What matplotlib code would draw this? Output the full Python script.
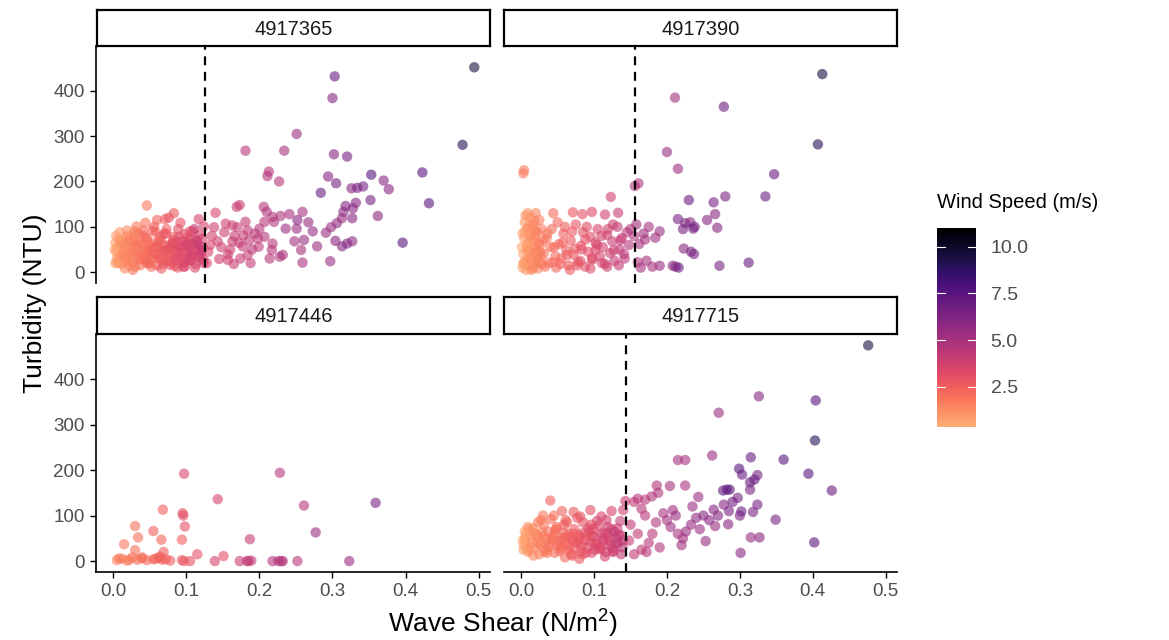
import matplotlib.pyplot as plt
import matplotlib.colors as mcolors
import numpy as np

plt.rcParams['font.family'] = ['Liberation Sans', 'DejaVu Sans']
plt.rcParams['mathtext.fontset'] = 'custom'
plt.rcParams['mathtext.rm'] = 'Liberation Sans'
plt.rcParams['mathtext.it'] = 'Liberation Sans'

# ---- data -------------------------------------------------------------------
stations = ["4917365", "4917390", "4917446", "4917715"]
thresholds = [0.126, 0.156, None, 0.144]

# station 4917365
shear_365 = [
    0.005, 0.006, 0.008, 0.010, 0.012, 0.015, 0.018, 0.020, 0.022, 0.025, 0.028, 0.030, 0.033, 0.035, 0.038, 0.040,
    0.043, 0.045, 0.048, 0.050, 0.053, 0.055, 0.058, 0.060, 0.063, 0.065, 0.068, 0.070, 0.073, 0.075, 0.078, 0.080,
    0.083, 0.085, 0.088, 0.090, 0.093, 0.095, 0.098, 0.100, 0.103, 0.105, 0.108, 0.110, 0.113, 0.115, 0.118, 0.120,
    0.123,
    0.004, 0.007, 0.009, 0.011, 0.014, 0.016, 0.019, 0.021, 0.024, 0.026, 0.029, 0.032, 0.034, 0.037, 0.039, 0.042,
    0.044, 0.047, 0.049, 0.052, 0.054, 0.057, 0.059, 0.062, 0.064, 0.067, 0.069, 0.072, 0.074, 0.077, 0.079, 0.082,
    0.084, 0.087, 0.089, 0.092, 0.094, 0.097, 0.099, 0.102, 0.104, 0.107, 0.109, 0.112, 0.114, 0.117, 0.119, 0.122,
    0.124,
    0.003, 0.009, 0.013, 0.017, 0.023, 0.027, 0.031, 0.036, 0.041, 0.046, 0.051, 0.056, 0.061, 0.066, 0.071, 0.076,
    0.081, 0.086, 0.091, 0.096, 0.101, 0.106, 0.111, 0.116, 0.121,
    0.006, 0.010, 0.014, 0.018, 0.022, 0.026, 0.030, 0.034, 0.038, 0.042, 0.046, 0.050, 0.054, 0.058, 0.062, 0.066,
    0.070, 0.074, 0.078, 0.082, 0.086, 0.090, 0.094, 0.098, 0.102, 0.106, 0.110, 0.114, 0.118, 0.122,
    0.046, 0.083, 0.117, 0.060, 0.071, 0.044, 0.092, 0.032, 0.019, 0.105, 0.124, 0.002, 0.003, 0.004,
    0.494, 0.303, 0.300, 0.251, 0.181, 0.234, 0.302, 0.320, 0.478, 0.213, 0.211, 0.227, 0.294, 0.305, 0.353, 0.370,
    0.377, 0.423, 0.432, 0.396, 0.284, 0.326, 0.334, 0.342, 0.352, 0.362, 0.332, 0.328, 0.315, 0.318, 0.327, 0.313,
    0.306, 0.298, 0.291, 0.304, 0.313, 0.320, 0.327, 0.297, 0.259, 0.279, 0.273, 0.267, 0.259, 0.252, 0.251, 0.236,
    0.261, 0.257, 0.248, 0.241, 0.229, 0.218, 0.206, 0.210, 0.207, 0.220, 0.200, 0.198, 0.207, 0.218, 0.217, 0.228,
    0.232, 0.214, 0.199, 0.184, 0.173, 0.169, 0.181, 0.184, 0.170, 0.163, 0.154, 0.140, 0.138, 0.143, 0.157, 0.163,
    0.177, 0.178, 0.174, 0.157, 0.145,
    0.130, 0.135, 0.148, 0.152, 0.160, 0.166, 0.172, 0.186, 0.190, 0.194, 0.128, 0.133, 0.165, 0.188,
]
turb_365 = [
    30, 55, 72, 40, 18, 62, 35, 80, 25, 48, 68, 12, 45, 85, 28, 58, 38, 75, 20, 50, 65, 32, 88, 15, 42, 70, 27, 60,
    95, 36, 52, 22, 78, 44, 10, 66, 30, 57, 84, 24, 47, 73, 35, 62, 18, 50, 82, 40, 28,
    45, 20, 88, 60, 35, 8, 75, 42, 55, 22, 90, 38, 65, 15, 50, 80, 28, 45, 62, 12, 92, 40, 55, 30, 78, 48, 18, 85,
    25, 58, 40, 70, 14, 52, 95, 33, 68, 20, 45, 76, 26, 58, 90, 10, 68, 32, 50, 74, 20,
    65, 30, 50, 25, 70, 5, 60, 33, 92, 20, 42, 100, 56, 8, 47, 120, 64, 26, 55, 12, 60, 38, 95, 62, 48,
    22, 68, 38, 58, 14, 44, 82, 28, 62, 36, 74, 20, 55, 40, 66, 30, 85, 48, 16, 60, 34, 78, 42, 12, 64, 26, 46, 70,
    36, 56,
    147, 130, 117, 115, 117, 109, 109, 101, 92, 90, 101, 50, 20, 80,
    452, 432, 384, 305, 268, 268, 260, 255, 281, 222, 212, 200, 211, 196, 215, 202, 183, 220, 152, 65, 175, 185, 186,
    189, 159, 124, 153, 141, 133, 146, 119, 119, 108, 99, 87, 69, 57, 63, 68, 24, 21, 57, 90, 110, 133, 115, 96, 96,
    71, 49, 68, 128, 124, 122, 144, 133, 111, 111, 96, 74, 78, 63, 49, 34, 38, 30, 56, 38, 148, 144, 111, 92, 99,
    103, 107, 131, 99, 68, 39, 68, 57, 81, 30, 27, 29,
    45, 80, 55, 88, 50, 80, 65, 70, 50, 85, 20, 60, 18, 20,
]
wind_365 = [
    1.0, 1.1, 1.2, 1.0, 1.3, 1.4, 1.5, 1.3, 1.6, 1.5, 1.7, 1.8, 1.6, 1.9, 1.8, 2.0, 1.9, 2.1, 2.0, 2.2, 2.1, 2.3, 2.2,
    2.4, 2.3, 2.5, 2.4, 2.6, 2.5, 2.7, 2.6, 2.8, 2.7, 2.9, 2.8, 3.0, 2.9, 3.1, 3.0, 3.2, 3.1, 3.3, 3.2, 3.4, 3.3, 3.5,
    3.4, 3.6, 3.5,
    0.9, 1.1, 1.0, 1.2, 1.4, 1.3, 1.5, 1.6, 1.5, 1.7, 1.8, 1.7, 1.9, 2.0, 1.9, 2.1, 2.2, 2.1, 2.3, 2.2, 2.4, 2.3, 2.5,
    2.4, 2.6, 2.5, 2.7, 2.8, 2.7, 2.9, 2.8, 3.0, 3.1, 3.0, 3.2, 3.1, 3.3, 3.2, 3.4, 3.3, 3.5, 3.4, 3.6, 3.5, 3.7, 3.6,
    3.8, 3.7, 3.9,
    0.8, 1.2, 1.3, 1.5, 1.7, 1.8, 1.9, 2.0, 2.2, 2.3, 2.4, 2.6, 2.7, 2.8, 3.0, 3.1, 3.2, 3.3, 3.5, 3.6, 3.7, 3.8, 4.0,
    4.1, 4.2,
    1.0, 1.1, 1.3, 1.4, 1.5, 1.6, 1.7, 1.8, 1.9, 2.0, 2.1, 2.2, 2.3, 2.4, 2.5, 2.6, 2.7, 2.8, 2.9, 3.0, 3.1, 3.2, 3.3,
    3.4, 3.5, 3.5, 3.6, 3.7, 3.8, 3.9,
    1.8, 2.8, 3.5, 2.4, 2.6, 1.9, 3.0, 1.7, 1.3, 3.2, 3.6, 0.7, 0.8, 0.9,
    9.5, 7.0, 6.0, 5.5, 4.5, 5.0, 6.0, 6.5, 9.0, 4.5, 4.8, 4.5, 6.0, 6.5, 7.5, 6.0, 6.0, 7.5, 7.5, 7.5, 7.0, 6.0, 6.5,
    6.5, 6.5, 6.0, 6.0, 6.0, 5.8, 6.2, 6.0, 5.5, 5.8, 5.5, 5.5, 6.0, 6.0, 6.2, 5.8, 5.5, 5.0, 5.5, 5.5, 5.5, 5.0, 6.0,
    5.5, 5.5, 5.5, 5.0, 5.2, 5.0, 4.8, 4.5, 4.5, 4.8, 4.5, 4.8, 4.5, 4.2, 4.5, 4.5, 4.5, 4.8, 5.0, 4.5, 4.2, 4.0, 4.0,
    4.0, 4.2, 4.3, 4.0, 4.0, 3.8, 3.5, 3.8, 3.8, 3.9, 4.0, 4.2, 4.0, 4.0, 3.8, 3.8,
    3.5, 3.6, 3.8, 3.9, 4.0, 4.0, 4.1, 4.3, 4.4, 4.5, 3.4, 3.5, 4.0, 4.2,
]

# station 4917390
shear_390 = [
    0.002, 0.003, 0.004, 0.005, 0.006, 0.007, 0.008, 0.009, 0.010, 0.011, 0.012, 0.013, 0.014, 0.015, 0.016, 0.017,
    0.018, 0.019, 0.020, 0.022, 0.024, 0.026,
    0.001, 0.003, 0.005, 0.007, 0.009, 0.011, 0.013, 0.015, 0.017, 0.019, 0.021, 0.023, 0.025, 0.027, 0.029,
    0.002, 0.004, 0.006, 0.008, 0.010, 0.012, 0.014, 0.016, 0.018, 0.020, 0.022, 0.024, 0.026, 0.028, 0.030,
    0.031, 0.035, 0.038, 0.042, 0.045, 0.048, 0.052, 0.055, 0.058, 0.062, 0.065, 0.068, 0.072, 0.075, 0.078, 0.082,
    0.085, 0.088, 0.092, 0.095, 0.098, 0.102, 0.105, 0.108, 0.112, 0.115, 0.118, 0.122, 0.125, 0.128, 0.132, 0.135,
    0.138, 0.142, 0.145, 0.148,
    0.033, 0.040, 0.047, 0.054, 0.060, 0.067, 0.074, 0.081, 0.088, 0.095, 0.102, 0.110, 0.118, 0.126, 0.134, 0.141,
    0.036, 0.044, 0.050, 0.057, 0.063, 0.070, 0.077, 0.083, 0.090, 0.097, 0.104, 0.111, 0.119, 0.127, 0.136,
    0.020, 0.044, 0.071, 0.084, 0.097, 0.115, 0.133,
    0.003, 0.004, 0.123, 0.161, 0.156,
    0.413, 0.407, 0.211, 0.278, 0.200, 0.215, 0.347, 0.335, 0.280, 0.264, 0.230, 0.266, 0.255, 0.269, 0.215, 0.225,
    0.232, 0.238, 0.222, 0.236, 0.223, 0.233, 0.237, 0.312, 0.272, 0.212, 0.216, 0.208, 0.190, 0.180, 0.172, 0.164,
    0.160, 0.190, 0.184, 0.170, 0.162, 0.150, 0.158, 0.175, 0.168, 0.155,
]
turb_390 = [
    10, 40, 75, 110, 25, 60, 95, 130, 15, 50, 85, 120, 5, 35, 70, 105, 20, 55, 90, 30, 65, 45,
    55, 20, 90, 5, 45, 70, 28, 100, 12, 80, 48, 8, 115, 36, 18,
    85, 18, 125, 52, 100, 30, 78, 8, 112, 42, 88, 22, 60, 95, 70,
    40, 75, 20, 95, 55, 10, 62, 30, 85, 48, 15, 70, 38, 105, 22, 58, 88, 12, 45, 78, 28, 65, 95, 35, 55, 18, 82, 42,
    68, 25, 100, 50, 75, 30, 88, 60,
    12, 55, 35, 18, 100, 5, 52, 25, 72, 8, 48, 80, 12, 105, 15, 40,
    85, 22, 110, 65, 38, 90, 15, 50, 100, 30, 60, 20, 95, 48, 70,
    130, 130, 132, 128, 133, 127, 131,
    218, 225, 166, 196, 190,
    437, 282, 385, 365, 265, 228, 216, 167, 167, 154, 159, 128, 115, 98, 117, 108, 110, 100, 95, 96, 52, 45, 40, 21,
    14, 12, 10, 14, 14, 12, 25, 10, 22, 90, 76, 72, 62, 95, 105, 100, 85, 80,
]
wind_390 = [
    0.6, 0.8, 0.7, 0.9, 1.0, 0.8, 1.0, 1.1, 1.2, 1.0, 1.1, 1.3, 1.2, 1.1, 1.3, 1.4, 1.3, 1.5, 1.4, 1.5, 1.6, 1.7,
    0.5, 0.7, 0.8, 0.9, 1.0, 1.1, 1.2, 1.2, 1.3, 1.4, 1.5, 1.5, 1.6, 1.7, 1.8,
    0.8, 0.9, 1.0, 1.0, 1.1, 1.2, 1.2, 1.3, 1.4, 1.4, 1.5, 1.6, 1.6, 1.7, 1.8,
    1.8, 1.9, 2.0, 2.1, 2.2, 2.3, 2.3, 2.4, 2.5, 2.6, 2.6, 2.7, 2.8, 2.9, 2.9, 3.0, 3.1, 3.2, 3.2, 3.3, 3.4, 3.5, 3.5,
    3.6, 3.7, 3.8, 3.8, 3.9, 4.0, 4.1, 4.1, 4.2, 4.3, 4.4, 4.4, 4.5,
    1.9, 2.0, 2.2, 2.4, 2.5, 2.6, 2.8, 3.0, 3.1, 3.3, 3.4, 3.6, 3.8, 4.0, 4.1, 4.3,
    1.9, 2.1, 2.3, 2.4, 2.6, 2.7, 2.9, 3.0, 3.2, 3.3, 3.5, 3.6, 3.8, 3.9, 4.1,
    1.5, 2.2, 2.8, 3.0, 3.3, 3.7, 4.0,
    1.8, 1.6, 3.8, 4.8, 4.8,
    9.5, 9.0, 5.0, 7.0, 5.5, 5.5, 7.0, 7.0, 6.5, 6.5, 7.0, 6.0, 6.0, 6.0, 6.5, 6.5, 6.0, 6.5, 6.5, 6.5, 6.0, 6.5, 6.5,
    7.0, 6.5, 6.5, 6.8, 6.0, 5.5, 5.0, 5.0, 5.0, 4.8, 5.5, 5.3, 5.0, 5.0, 4.8, 5.2, 5.0, 5.2, 4.8,
]

# station 4917446
shear_446 = [
    0.097, 0.228, 0.143, 0.359, 0.261, 0.068, 0.095, 0.096, 0.030, 0.098, 0.055, 0.034, 0.066, 0.094, 0.187, 0.277,
    0.015, 0.030, 0.115, 0.151, 0.069,
    0.005, 0.012, 0.019, 0.026, 0.033, 0.039, 0.046, 0.055, 0.062, 0.067, 0.078, 0.094, 0.105, 0.139, 0.173, 0.185,
    0.189, 0.218, 0.226, 0.232, 0.252, 0.323, 0.008, 0.022, 0.040, 0.058, 0.064, 0.072, 0.097, 0.183, 0.230,
]
turb_446 = [
    192, 194, 136, 128, 122, 113, 105, 100, 77, 76, 66, 52, 47, 47, 48, 63, 37, 24, 15, 11, 20,
    2, 5, 1, 8, 3, 6, 2, 4, 7, 3, 1, 2, 0, 0, 0, 0, 1, 0, 0, 0, 0, 0, 6, 3, 8, 5, 10, 4, 0, 0, 0,
]
wind_446 = [
    3.5, 4.5, 3.5, 6.5, 4.5, 2.5, 3.0, 3.2, 2.0, 3.0, 2.5, 2.0, 2.3, 2.5, 4.0, 5.5, 1.8, 2.0, 3.0, 3.0, 2.5,
    1.5, 1.8, 1.6, 1.9, 2.0, 2.0, 2.2, 2.3, 2.4, 2.4, 2.6, 2.8, 3.0, 3.5, 4.0, 4.5, 4.2, 4.5, 4.8, 4.5, 4.5, 5.5,
    1.7, 1.8, 2.0, 2.3, 2.5, 2.5, 2.8, 4.2, 4.6,
]

# station 4917715
shear_715 = [
    0.004, 0.007, 0.010, 0.013, 0.016, 0.019, 0.022, 0.025, 0.028, 0.031, 0.034, 0.037, 0.040, 0.043, 0.046, 0.049,
    0.052, 0.055, 0.058, 0.061, 0.064, 0.067, 0.070, 0.073, 0.076, 0.079, 0.082, 0.085, 0.088, 0.091, 0.094, 0.097,
    0.100, 0.103, 0.106, 0.109, 0.112, 0.115, 0.118, 0.121, 0.124, 0.127, 0.130, 0.133, 0.136, 0.139,
    0.005, 0.008, 0.011, 0.014, 0.017, 0.020, 0.023, 0.026, 0.029, 0.032, 0.035, 0.038, 0.041, 0.044, 0.047, 0.050,
    0.053, 0.056, 0.059, 0.062, 0.065, 0.068, 0.071, 0.074, 0.077, 0.080, 0.083, 0.086, 0.089, 0.092, 0.095, 0.098,
    0.101, 0.104, 0.107, 0.110, 0.113, 0.116, 0.119, 0.122, 0.125, 0.128, 0.131, 0.134, 0.137, 0.140,
    0.006, 0.012, 0.018, 0.024, 0.030, 0.036, 0.042, 0.048, 0.054, 0.060, 0.066, 0.072, 0.078, 0.084, 0.090, 0.096,
    0.102, 0.108, 0.114, 0.120, 0.126, 0.132, 0.138, 0.009, 0.027, 0.045, 0.063, 0.081, 0.099, 0.117,
    0.040, 0.056, 0.072, 0.095, 0.124, 0.140, 0.002, 0.003, 0.005, 0.030, 0.080, 0.110, 0.060,
    0.476, 0.326, 0.404, 0.271, 0.403, 0.215, 0.225, 0.262, 0.315, 0.360, 0.394, 0.426, 0.299, 0.303, 0.324, 0.314,
    0.320, 0.282, 0.286, 0.277, 0.314, 0.297, 0.243, 0.225, 0.204, 0.186, 0.188, 0.179, 0.170, 0.160, 0.155, 0.143,
    0.324, 0.278, 0.264, 0.302, 0.300, 0.318, 0.349, 0.402, 0.315, 0.327, 0.253, 0.301, 0.284, 0.266, 0.233, 0.226,
    0.222, 0.220, 0.200, 0.205, 0.212, 0.215, 0.240, 0.250, 0.245, 0.195, 0.208, 0.180, 0.175, 0.185, 0.170, 0.165,
    0.160, 0.150, 0.148, 0.155, 0.172, 0.190, 0.165, 0.235, 0.258, 0.270, 0.285, 0.290,
]
turb_715 = [
    35, 60, 20, 48, 72, 30, 55, 15, 42, 80, 25, 65, 38, 50, 18, 75, 44, 28, 62, 90, 33, 52, 12, 70, 40, 58, 22, 85,
    46, 30, 66, 18, 54, 38, 78, 26, 48, 10, 60, 35, 70, 22, 50, 40, 88, 30,
    50, 25, 70, 40, 12, 58, 85, 36, 64, 20, 48, 30, 92, 55, 68, 35, 22, 50, 80, 40, 60, 15, 46, 28, 95, 52, 35, 62,
    18, 72, 42, 55, 25, 88, 32, 60, 45, 20, 75, 52, 28, 65, 38, 58, 15, 45,
    45, 28, 62, 40, 55, 18, 48, 70, 32, 52, 25, 60, 42, 15, 56, 80, 38, 28, 62, 44, 20, 72, 56, 75, 90, 100, 85, 98,
    70, 90,
    133, 110, 108, 112, 110, 112, 45, 25, 65, 100, 5, 98, 8,
    474, 362, 353, 326, 265, 222, 222, 232, 228, 223, 192, 155, 203, 190, 189, 173, 179, 157, 157, 155, 157, 139, 141,
    166, 165, 166, 150, 142, 135, 137, 130, 132, 124, 124, 113, 109, 100, 108, 91, 41, 52, 52, 44, 18, 81, 77, 80, 65,
    50, 35, 90, 75, 100, 60, 95, 100, 70, 105, 112, 60, 40, 85, 100, 25, 60, 80, 45, 15, 20, 30, 115, 120, 90, 100,
    110, 130,
]
wind_715 = [
    1.0, 1.1, 1.2, 1.3, 1.4, 1.5, 1.5, 1.6, 1.7, 1.8, 1.8, 1.9, 2.0, 2.0, 2.1, 2.2, 2.2, 2.3, 2.4, 2.4, 2.5, 2.6, 2.6,
    2.7, 2.8, 2.8, 2.9, 3.0, 3.0, 3.1, 3.2, 3.2, 3.3, 3.4, 3.4, 3.5, 3.6, 3.6, 3.7, 3.8, 3.8, 3.9, 4.0, 4.0, 4.1, 4.2,
    0.9, 1.1, 1.2, 1.2, 1.4, 1.5, 1.6, 1.6, 1.7, 1.8, 1.9, 2.0, 2.0, 2.1, 2.2, 2.3, 2.3, 2.4, 2.5, 2.5, 2.6, 2.7, 2.8,
    2.8, 2.9, 3.0, 3.1, 3.1, 3.2, 3.3, 3.3, 3.4, 3.5, 3.6, 3.6, 3.7, 3.8, 3.8, 3.9, 4.0, 4.1, 4.1, 4.2, 4.3, 4.3, 4.4,
    1.0, 1.2, 1.3, 1.5, 1.6, 1.7, 1.9, 2.0, 2.1, 2.3, 2.4, 2.5, 2.7, 2.8, 2.9, 3.1, 3.2, 3.3, 3.5, 3.6, 3.7, 3.9, 4.0,
    1.1, 1.6, 2.0, 2.5, 2.9, 3.3, 3.7,
    2.5, 2.5, 2.8, 3.0, 3.5, 3.8, 0.6, 0.7, 0.8, 1.8, 2.8, 3.5, 2.2,
    9.5, 6.0, 7.5, 5.5, 9.0, 5.0, 5.0, 5.5, 7.0, 7.5, 7.5, 7.0, 7.5, 7.0, 6.5, 7.0, 7.0, 7.5, 7.5, 7.0, 6.5, 6.5, 5.5,
    5.0, 5.0, 4.8, 4.8, 4.8, 4.5, 4.5, 4.3, 4.0, 6.5, 6.0, 6.0, 7.0, 6.5, 6.5, 6.5, 7.5, 5.5, 6.0, 5.5, 6.0, 6.0, 5.5,
    5.5, 5.5, 5.3, 5.3, 5.0, 5.2, 5.5, 5.0, 5.8, 6.0, 5.5, 5.0, 5.3, 4.5, 4.5, 4.8, 4.5, 4.3, 4.3, 4.2, 4.0, 4.2, 4.5,
    4.8, 4.5, 5.5, 6.0, 6.2, 6.5, 6.8,
]

shear = [shear_365, shear_390, shear_446, shear_715]
turb = [turb_365, turb_390, turb_446, turb_715]
wind = [wind_365, wind_390, wind_446, wind_715]

y_ticks = [0, 100, 200, 300, 400]
x_ticks = [0.0, 0.1, 0.2, 0.3, 0.4, 0.5]
x_tick_labels = ["0.0", "0.1", "0.2", "0.3", "0.4", "0.5"]
wind_ticks = [2.5, 5.0, 7.5, 10.0]
wind_tick_labels = ["2.5", "5.0", "7.5", "10.0"]
wind_range = (0.35, 11.0)

# ---- style ------------------------------------------------------------------
cmap = mcolors.ListedColormap(plt.cm.magma(np.linspace(0.83, 0.0, 256)))
norm = mcolors.Normalize(*wind_range)
TICK_GREY = "#4d4d4d"
TICK_SIZE = 13.5
TITLE_SIZE = 19

W, H = 1169, 640
fig = plt.figure(figsize=(W / 100, H / 100), dpi=100)


def fbox(x0, y0, x1, y1):
    # pixel box (top-left origin) -> figure fraction rect
    return [x0 / W, 1 - y1 / H, (x1 - x0) / W, (y1 - y0) / H]


panel_px = [
    (96, 46, 490, 283), (504, 46, 897, 283),
    (96, 334, 490, 572), (504, 334, 897, 572),
]
strip_px = [
    (97, 10, 490, 46), (504, 10, 897, 46),
    (97, 297, 490, 334), (504, 297, 897, 334),
]

for i, name in enumerate(stations):
    ax = fig.add_axes(fbox(*panel_px[i]))
    ax.scatter(shear[i], turb[i], c=wind[i], cmap=cmap, norm=norm, s=56, alpha=0.6, linewidths=0)
    if thresholds[i] is not None:
        ax.axvline(thresholds[i], color="black", lw=1.6, dashes=(4, 3))
    ax.set_xlim(-0.0235, 0.5155)
    ax.set_ylim(-24, 499)
    for side in ["top", "right", "left", "bottom"]:
        ax.spines[side].set_visible(False)
    left_col = i % 2 == 0
    bottom_row = i >= 2
    ax.set_xticks(x_ticks)
    ax.set_yticks(y_ticks)
    ax.tick_params(colors="black", labelcolor=TICK_GREY, labelsize=TICK_SIZE, length=4.5, width=1)
    if left_col:
        ax.spines["left"].set_visible(True)
        ax.spines["left"].set_linewidth(1.2)
    else:
        ax.tick_params(axis="y", left=False, labelleft=False)
    if bottom_row:
        ax.spines["bottom"].set_visible(True)
        ax.spines["bottom"].set_linewidth(1.2)
        ax.set_xticklabels(x_tick_labels)
    else:
        ax.tick_params(axis="x", bottom=False, labelbottom=False)

    # facet strip
    sax = fig.add_axes(fbox(*strip_px[i]))
    sax.set_xticks([])
    sax.set_yticks([])
    for sp in sax.spines.values():
        sp.set_linewidth(1.6)
        sp.set_color("black")
    sax.text(0.5, 0.47, name, ha="center", va="center", fontsize=14.5, color="#1a1a1a", transform=sax.transAxes)

# axis titles
fig.text(503 / W, 1 - 624 / H, "Wave Shear (N/m$^2$)", ha="center", va="center", fontsize=TITLE_SIZE)
fig.text(35 / W, 1 - 303 / H, "Turbidity (NTU)", ha="center", va="center", rotation=90, fontsize=TITLE_SIZE)

# colour bar
cax = fig.add_axes(fbox(937, 228, 976, 427))
gradient = np.linspace(wind_range[0], wind_range[1], 256).reshape(-1, 1)
cax.imshow(gradient, cmap=cmap, norm=norm, aspect="auto", origin="lower",
           extent=[0, 1, wind_range[0], wind_range[1]])
cax.set_xlim(0, 1)
cax.set_ylim(*wind_range)
for sp in cax.spines.values():
    sp.set_visible(False)
cax.set_xticks([])
cax.set_yticks(wind_ticks)
cax.set_yticklabels(wind_tick_labels)
cax.yaxis.tick_right()
cax.tick_params(axis="y", length=0, pad=10.5, labelsize=14, labelcolor=TICK_GREY)
for t in wind_ticks:
    cax.plot([0, 0.2], [t, t], color="white", lw=0.8)
    cax.plot([0.8, 1], [t, t], color="white", lw=0.8)
fig.text(937 / W, 1 - 203 / H, "Wind Speed (m/s)", ha="left", va="center", fontsize=14.5)

fig.savefig("out.png", dpi=100)
